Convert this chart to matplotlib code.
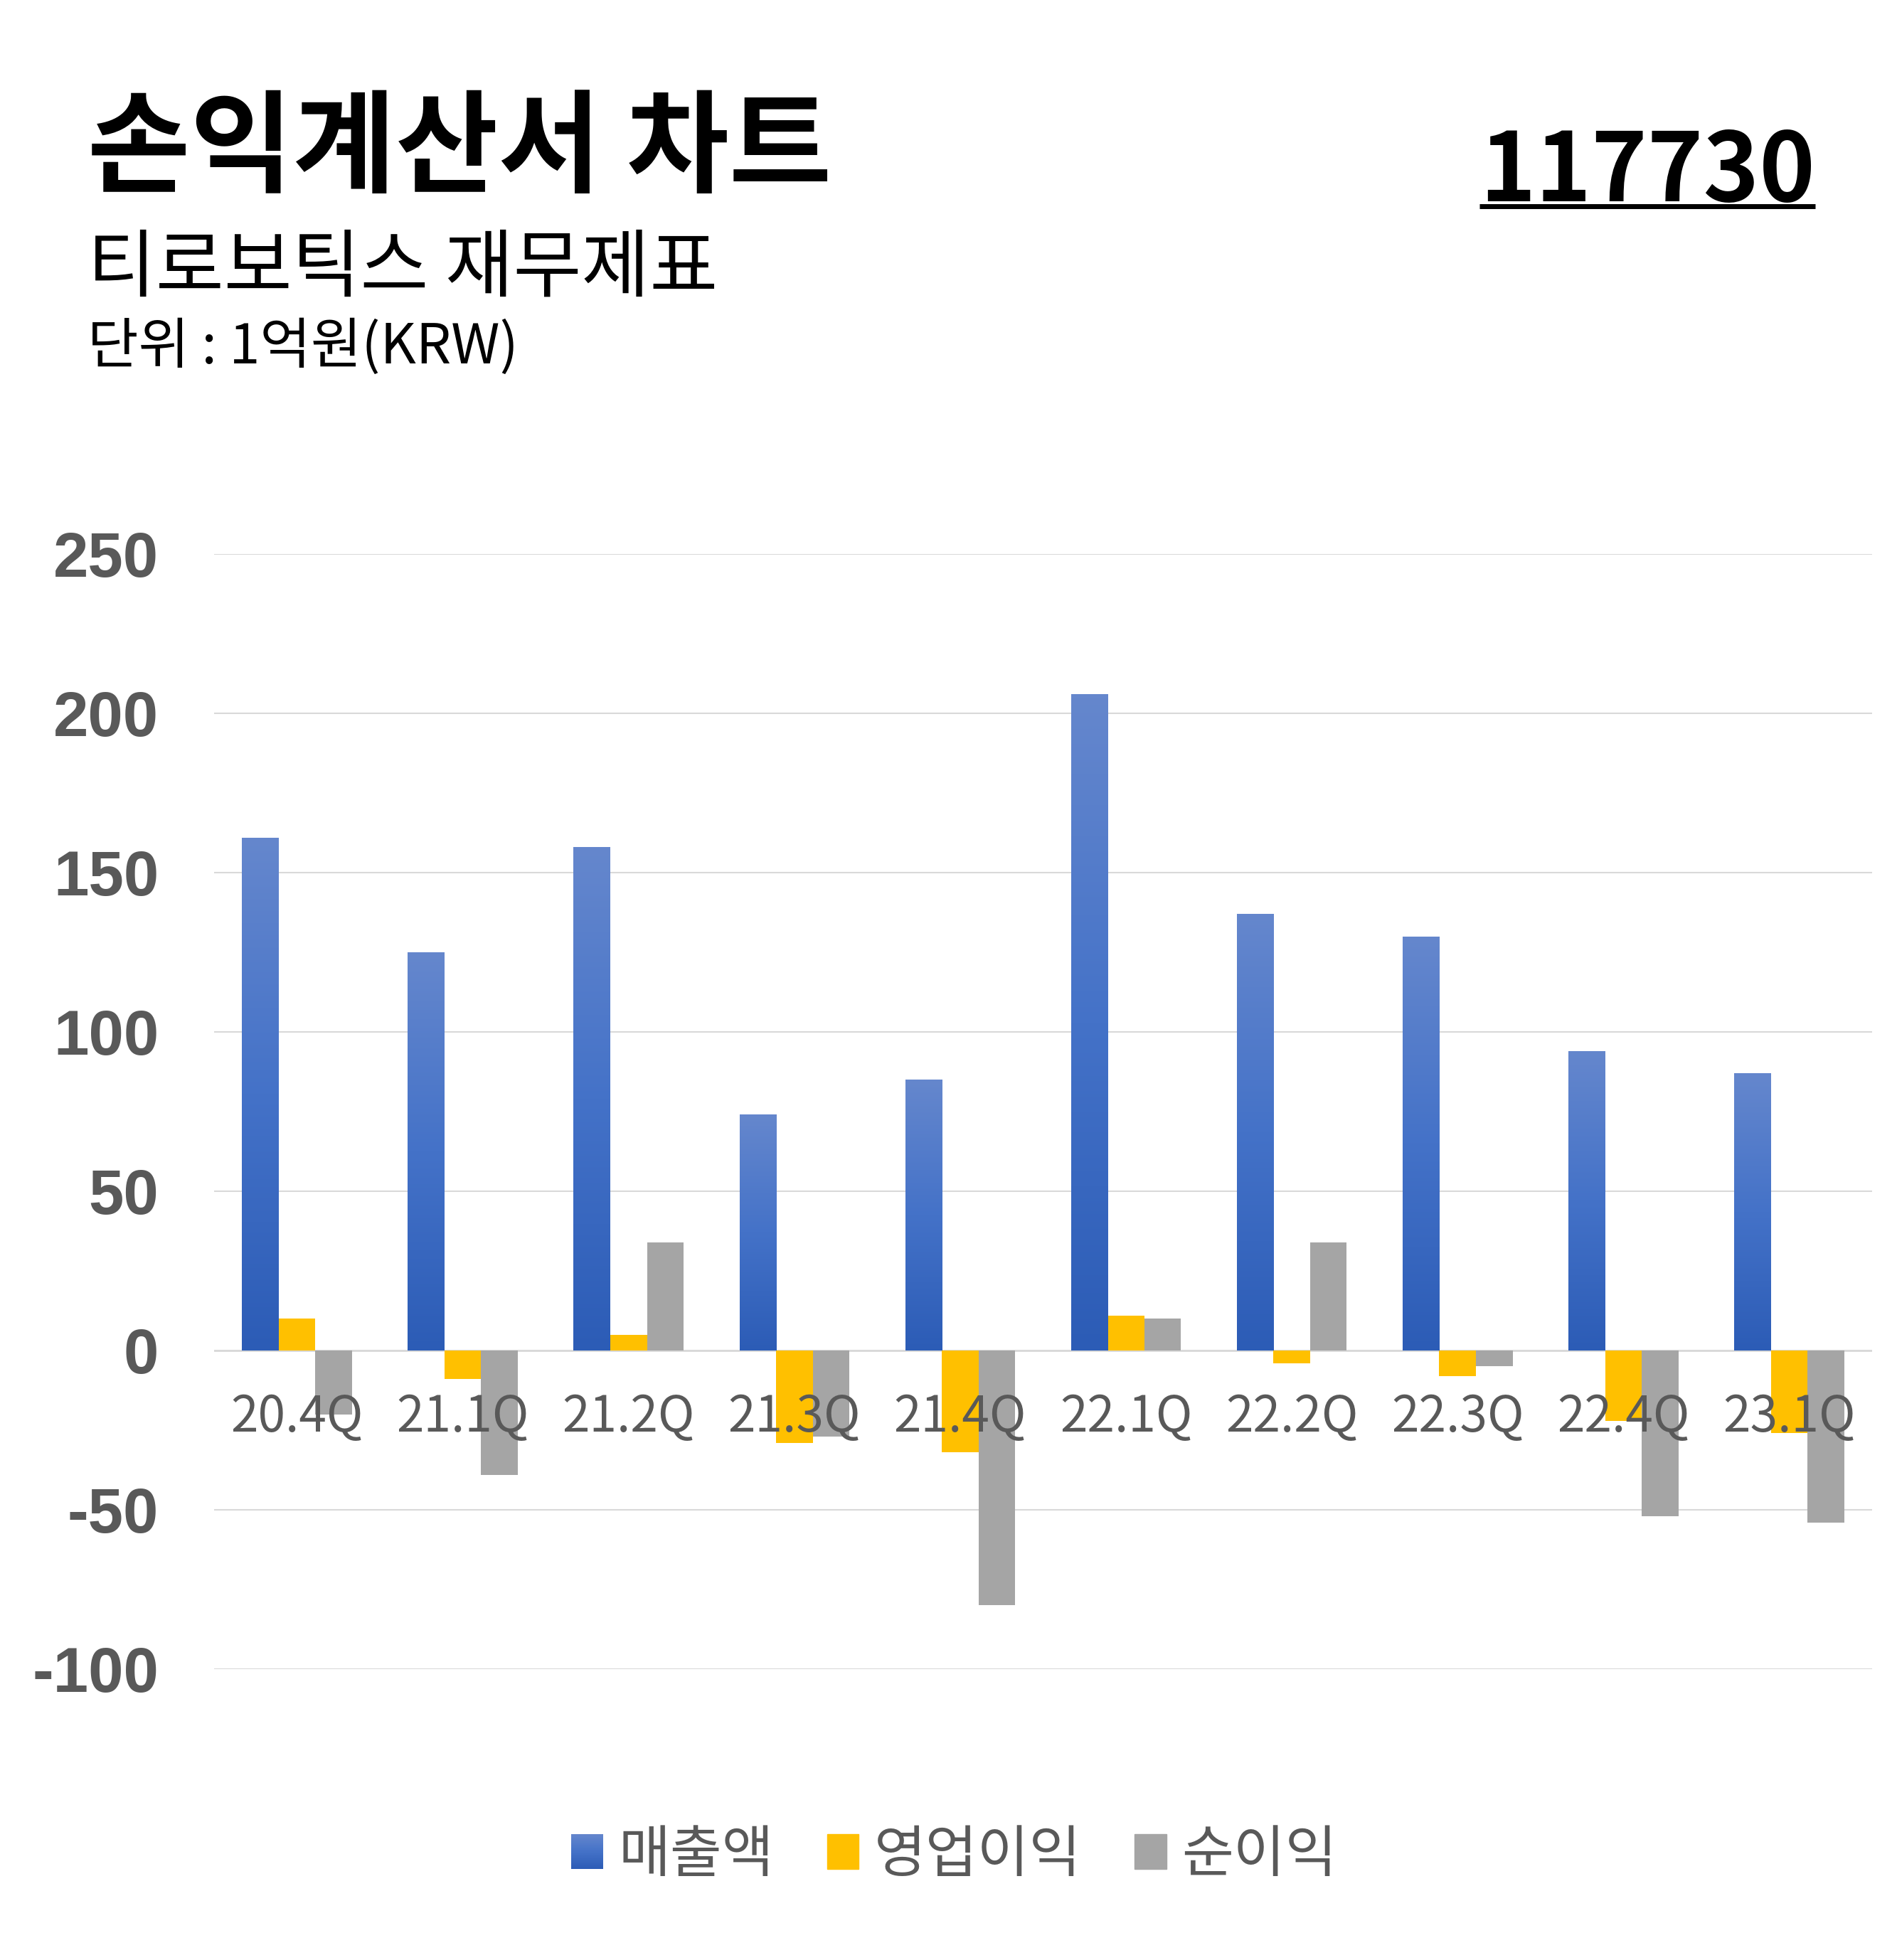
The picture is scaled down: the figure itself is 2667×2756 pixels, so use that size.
import numpy as np
import matplotlib
matplotlib.use("Agg")
import matplotlib.pyplot as plt
from matplotlib.colors import LinearSegmentedColormap
from matplotlib.legend_handler import HandlerBase
from matplotlib.image import BboxImage
from matplotlib.transforms import Bbox, TransformedBbox
from matplotlib.lines import Line2D
from matplotlib.patches import Patch

# ---------------- data ----------------
categories = ['20.4Q', '21.1Q', '21.2Q', '21.3Q', '21.4Q',
              '22.1Q', '22.2Q', '22.3Q', '22.4Q', '23.1Q']
revenue = [161, 125, 158, 74, 85, 206, 137, 130, 94, 87]        # 매출액
op_profit = [10, -9, 5, -29, -32, 11, -4, -8, -22, -26]         # 영업이익
net_profit = [-20, -39, 34, -27, -80, 10, 34, -5, -52, -54]     # 순이익
series_names = ['매출액', '영업이익', '순이익']
y_ticks = [-100, -50, 0, 50, 100, 150, 200, 250]

title = '손익계산서 차트'
subtitle = '티로보틱스 재무제표'
unit_text = '단위 : 1억원(KRW)'
code_text = '117730'

# ---------------- style ----------------
KR = 'Noto Sans CJK KR'
plt.rcParams['font.family'] = [KR, 'DejaVu Sans']
TICK_COLOR = '#595959'
GRID_COLOR = '#D9D9D9'
YELLOW = '#FFC000'
GRAY = '#A5A5A5'
blue_cmap = LinearSegmentedColormap.from_list(
    'blue_grad', ['#2C5CB6', '#4472C8', '#6587CD'])

W, H = 2667, 2756
DPI = 100
fig = plt.figure(figsize=(W / DPI, H / DPI), dpi=DPI)
fig.patch.set_facecolor('white')

left_px, right_px, top_px, bottom_px = 301, 2632, 779, 2347
ax = fig.add_axes([left_px / W, 1 - bottom_px / H,
                   (right_px - left_px) / W, (bottom_px - top_px) / H])

x = np.arange(len(categories))
bw = 0.221

grad = np.linspace(0, 1, 256).reshape(-1, 1)

bars_rev = ax.bar(x - bw, revenue, bw, color='#4472C8', zorder=2, linewidth=0)
for b in bars_rev:
    x0, y0 = b.get_x(), b.get_y()
    w_, h_ = b.get_width(), b.get_height()
    im = ax.imshow(grad, cmap=blue_cmap, aspect='auto',
                   extent=[x0, x0 + w_, y0, y0 + h_], origin='lower',
                   zorder=2.1, interpolation='bilinear')
    im.set_clip_path(b)
bars_op = ax.bar(x, op_profit, bw, color=YELLOW, zorder=2, linewidth=0)
bars_net = ax.bar(x + bw, net_profit, bw, color=GRAY, zorder=2, linewidth=0)

ax.set_xlim(-0.5, len(categories) - 0.5)
ax.set_ylim(y_ticks[0], y_ticks[-1])
ax.set_yticks(y_ticks)
ax.set_yticklabels([str(v) for v in y_ticks],
                   fontfamily='Liberation Sans', fontweight='bold',
                   fontsize=64, color=TICK_COLOR)
ax.tick_params(axis='y', length=0, pad=56)
ax.set_xticks([])
ax.yaxis.grid(True, color=GRID_COLOR, linewidth=1.5, zorder=0)
ax.set_axisbelow(True)
for s in ax.spines.values():
    s.set_visible(False)
ax.axhline(0, color=GRID_COLOR, linewidth=2, zorder=1.5)

for i, c in enumerate(categories):
    ax.annotate(c, xy=(x[i], 0), xycoords='data', xytext=(0, -42),
                textcoords='offset points', ha='center', va='top',
                fontsize=50, color=TICK_COLOR, fontfamily=KR, zorder=5)


# legend with gradient handle for 매출액
class GradientHandler(HandlerBase):
    def create_artists(self, legend, orig_handle, xdescent, ydescent,
                       width, height, fontsize, trans):
        bb = Bbox.from_bounds(-xdescent, -ydescent, width, height)
        tbb = TransformedBbox(bb, trans)
        img = BboxImage(tbb, cmap=blue_cmap, interpolation='bilinear',
                        origin='lower')
        img.set_data(grad)
        return [img]


h_rev = Patch(color='#4472C8')
h_op = Patch(color=YELLOW)
h_net = Patch(color=GRAY)
leg = fig.legend([h_rev, h_op, h_net], series_names, loc='center',
                 bbox_to_anchor=(0.503, 1 - 2609 / H), ncol=3, frameon=False,
                 prop={'family': KR, 'size': 57},
                 handlelength=0.56, handleheight=0.56, handletextpad=0.27,
                 columnspacing=0.95, labelcolor=TICK_COLOR,
                 handler_map={h_rev: GradientHandler()})

# titles
fig.text(123 / W, 1 - 132 / H, title, fontsize=113, fontweight='bold',
         fontfamily=KR, color='black', ha='left', va='top')
fig.text(123 / W, 1 - 326 / H, subtitle, fontsize=75,
         fontfamily=KR, color='black', ha='left', va='top')
fig.text(123 / W, 1 - 449 / H, unit_text, fontsize=56,
         fontfamily=KR, color='black', ha='left', va='top')
code = fig.text(2552 / W, 1 - 176 / H, code_text, fontsize=96,
                fontweight='bold', fontfamily=KR, color='black',
                ha='right', va='top')

fig.canvas.draw()
bb = code.get_window_extent()
ul_y = 1 - 290 / H
fig.add_artist(Line2D([bb.x0 / W, bb.x1 / W], [ul_y, ul_y],
                      transform=fig.transFigure, color='black',
                      linewidth=5, solid_capstyle='butt'))

fig.savefig('out.png', dpi=DPI, facecolor='white')
